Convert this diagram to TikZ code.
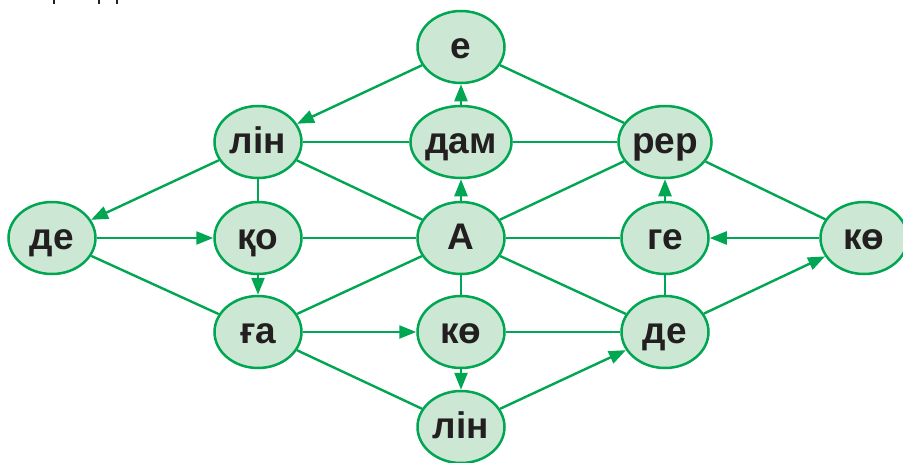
\documentclass[tikz,border=0pt]{standalone}
\usepackage{fontspec}
\setmainfont{Liberation Sans}
\usetikzlibrary{shapes.geometric,arrows.meta}
\definecolor{gline}{RGB}{0,166,81}
\definecolor{gfill}{RGB}{204,231,212}
\definecolor{dark}{RGB}{35,31,32}
\begin{document}
\begin{tikzpicture}[x=1pt,y=-1pt,
  syl/.style={ellipse, draw=gline, fill=gfill, line width=2.5pt, minimum width=87pt, minimum height=72pt, inner sep=0pt, font=\fontsize{37}{37}\selectfont\bfseries, text=dark, text height=22.5pt, text depth=0pt},
  ln/.style={draw=gline, line width=2.4pt},
  arr/.style={ln, -{Triangle[length=17pt,width=13pt]}}]
\useasboundingbox (0,0) rectangle (903,463);
% cut-off text fragments at the top edge
\fill[dark] (52.5,0) rectangle (55,4);
\fill[dark] (97.5,0) rectangle (100,4);
\fill[dark] (115.5,0) rectangle (118,4);
% nodes
\node[syl] (e)   at (461,47)  {е};
\node[syl] (lin1) at (258,142) {лін};
\node[syl] (dam) at (461,142) {дам};
\node[syl] (rer) at (665,142) {рер};
\node[syl] (de1) at (52,238)  {де};
\node[syl] (qo)  at (258,238) {қо};
\node[syl] (A)   at (461,238) {А};
\node[syl] (ge)  at (665,238) {ге};
\node[syl] (ko2) at (864,238) {кө};
\node[syl] (ga)  at (258,332) {ға};
\node[syl] (ko1) at (461,332) {кө};
\node[syl] (de2) at (665,332) {де};
\node[syl] (lin2) at (461,427) {лін};
% connectors
\draw[arr] (e) -- (lin1);
\draw[ln] (e) -- (rer);
\draw[arr] (dam) -- (e);
\draw[ln] (lin1) -- (dam);
\draw[ln] (dam) -- (rer);
\draw[arr] (A) -- (dam);
\draw[arr] (lin1) -- (de1);
\draw[ln] (lin1) -- (qo);
\draw[ln] (lin1) -- (A);
\draw[arr] (de1) -- (qo);
\draw[ln] (de1) -- (ga);
\draw[ln] (qo) -- (A);
\draw[arr] (qo) -- (ga);
\draw[ln] (A) -- (rer);
\draw[ln] (A) -- (ge);
\draw[ln] (A) -- (ga);
\draw[ln] (A) -- (ko1);
\draw[ln] (A) -- (de2);
\draw[arr] (ge) -- (rer);
\draw[arr] (ko2) -- (ge);
\draw[ln] (rer) -- (ko2);
\draw[ln] (ge) -- (de2);
\draw[arr] (de2) -- (ko2);
\draw[arr] (ga) -- (ko1);
\draw[ln] (ga) -- (lin2);
\draw[ln] (ko1) -- (de2);
\draw[arr] (ko1) -- (lin2);
\draw[arr] (lin2) -- (de2);
\end{tikzpicture}
\end{document}
